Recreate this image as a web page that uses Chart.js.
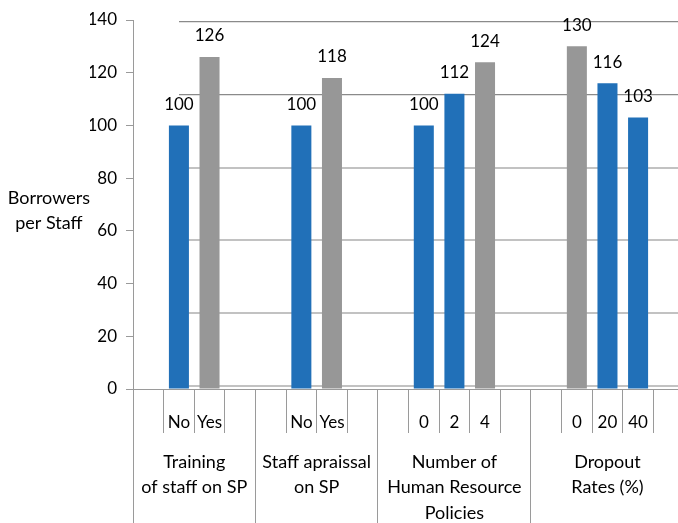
<!DOCTYPE html>
<html>
<head>
<meta charset="utf-8">
<script src="https://cdn.jsdelivr.net/npm/chart.js@4/dist/chart.umd.min.js"></script>
<style>
html, body { margin:0; padding:0; overflow:hidden; background:#fff; }
#wrap { position:relative; width:684px; height:523px; }
</style>
</head>
<body>
<div id="wrap"><canvas id="c"></canvas></div>
<script>
// ---- data ----
const groupLabels = [
  ['Training', 'of staff on SP'],
  ['Staff apraissal', 'on SP'],
  ['Number of', 'Human Resource', 'Policies'],
  ['Dropout', 'Rates (%)']
];
const subLabels = [
  ['No', 'Yes'],
  ['No', 'Yes'],
  ['0', '2', '4'],
  ['0', '20', '40']
];
const blueSeries = [
  [100, null],
  [100, null],
  [100, 112, null],
  [null, 116, 103]
];
const graySeries = [
  [null, 126],
  [null, 118],
  [null, null, 124],
  [130, null, null]
];
const yTicks = { min: 0, max: 140, step: 20 };
const yTitle = ['Borrowers', 'per Staff'];

// ---- build flat category axis (one empty slot before & after each group) ----
const categories = [], blueData = [], grayData = [], boundaries = [0], centers = [];
subLabels.forEach((subs, g) => {
  const start = categories.length;
  categories.push(''); blueData.push(null); grayData.push(null);
  subs.forEach((s, k) => {
    categories.push(s);
    blueData.push(blueSeries[g][k]);
    grayData.push(graySeries[g][k]);
  });
  categories.push(''); blueData.push(null); grayData.push(null);
  boundaries.push(categories.length);
  centers.push((start + categories.length) / 2);
});
const nCat = categories.length;

const AXIS = '#9a9a9a';
Chart.defaults.font.family = 'Lato';
Chart.defaults.font.size = 17;
Chart.defaults.color = '#000';

function noPad(s) { s.paddingTop = 0; s.paddingBottom = 0; s.paddingLeft = 0; s.paddingRight = 0; }

const valueLabels = {
  id: 'valueLabels',
  afterDatasetsDraw(chart) {
    const ctx = chart.ctx;
    ctx.save();
    ctx.font = '17px Lato';
    ctx.fillStyle = '#000';
    ctx.textAlign = 'center';
    ctx.textBaseline = 'middle';
    chart.data.datasets.forEach((ds, i) => {
      chart.getDatasetMeta(i).data.forEach((el, j) => {
        const v = ds.data[j];
        if (v == null) return;
        ctx.fillText(String(v), el.x, el.y - 21);
      });
    });
    ctx.restore();
  }
};

new Chart(document.getElementById('c'), {
  type: 'bar',
  data: {
    labels: categories,
    datasets: [
      { data: blueData, backgroundColor: '#2170b8', xAxisID: 'x', yAxisID: 'y' },
      { data: grayData, backgroundColor: '#979797', xAxisID: 'x', yAxisID: 'y' }
    ]
  },
  options: {
    responsive: true,
    maintainAspectRatio: false,
    animation: false,
    grouped: false,
    barPercentage: 0.654,
    categoryPercentage: 1,
    layout: { padding: { top: 20, left: 0, right: 0, bottom: 0 } },
    plugins: { legend: { display: false }, tooltip: { enabled: false } },
    scales: {
      yTitle: {
        type: 'linear', position: 'left', weight: 2,
        min: yTicks.min, max: yTicks.max,
        afterBuildTicks: s => { s.ticks = [{ value: 67.7 }]; },
        ticks: { callback: () => yTitle, crossAlign: 'center', padding: 0, font: { size: 18, lineHeight: 1.4 } },
        grid: { display: false, drawTicks: false },
        border: { display: false },
        afterFit: s => { s.width = 90; noPad(s); }
      },
      y: {
        type: 'linear', position: 'left', weight: 1,
        min: yTicks.min, max: yTicks.max,
        ticks: { stepSize: yTicks.step, padding: 9 },
        grid: { drawOnChartArea: false, drawTicks: true, tickLength: 7, color: AXIS },
        border: { display: true, color: AXIS },
        afterFit: s => { s.width = 43; noPad(s); }
      },
      yGrid: {
        type: 'linear', position: 'left', weight: 0,
        min: -0.0412, max: 5.0275,
        afterBuildTicks: s => { s.ticks = [0, 1, 2, 3, 4, 5].map(v => ({ value: v })); },
        ticks: { display: false },
        grid: {
          drawTicks: false,
          color: c => (c.index >= 4 ? '#8a8a8a' : '#c2c2c2'),
          lineWidth: c => (c.index >= 4 ? 1.3 : 2)
        },
        border: { display: false },
        afterFit: s => {
          s.width = 0; noPad(s);
          if (!s._clipped) {
            s._clipped = true;
            const orig = s.drawGrid;
            s.drawGrid = function (area) {
              const ctx = this.ctx;
              const left = this.chart.scales.x.getPixelForValue(1);
              ctx.save();
              ctx.beginPath();
              ctx.rect(left, 0, this.chart.width, this.chart.height);
              ctx.clip();
              orig.call(this, area);
              ctx.restore();
            };
          }
        }
      },
      xLines: {
        type: 'linear', position: 'bottom', weight: 0,
        min: 0, max: nCat, offset: false,
        afterBuildTicks: s => { s.ticks = boundaries.map(v => ({ value: v })); },
        ticks: { display: false },
        grid: { offset: false, drawOnChartArea: false, drawTicks: true, tickLength: 134, color: AXIS },
        border: { display: false },
        afterFit: s => { s.height = 0; noPad(s); }
      },
      x: {
        type: 'category', position: 'bottom', weight: 1,
        offset: true,
        ticks: { autoSkip: false, maxRotation: 0, minRotation: 0, padding: -21 },
        grid: { offset: true, drawOnChartArea: false, drawTicks: true, tickLength: 44, color: AXIS },
        border: { display: true, color: AXIS },
        afterFit: s => { s.height = 44; noPad(s); }
      },
      xGroups: {
        type: 'linear', position: 'bottom', weight: 2,
        min: 0, max: nCat, offset: false,
        afterBuildTicks: s => { s.ticks = centers.map(v => ({ value: v })); },
        ticks: { callback: (v, i) => groupLabels[i], maxRotation: 0, minRotation: 0, padding: 16, font: { size: 18, lineHeight: 1.43 } },
        grid: { offset: false, display: false, drawTicks: false },
        border: { display: false },
        afterFit: s => { s.height = 90; noPad(s); }
      }
    }
  },
  plugins: [valueLabels]
});
</script>
</body>
</html>
